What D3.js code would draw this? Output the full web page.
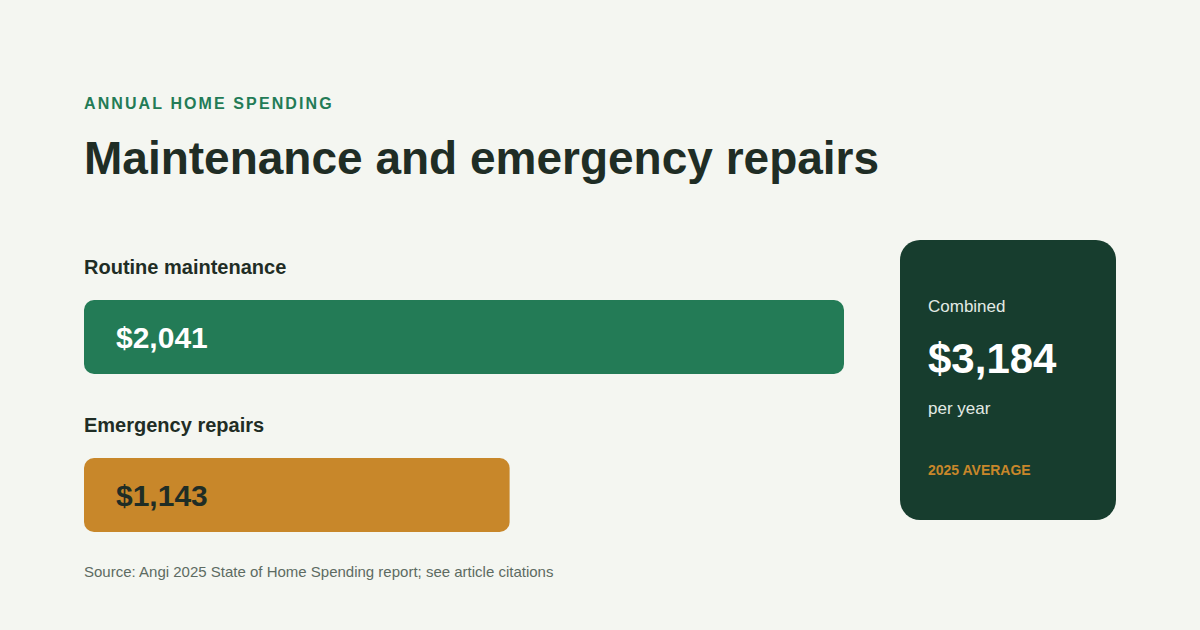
<!DOCTYPE html>
<html><head><meta charset="utf-8">
<script src="https://cdn.jsdelivr.net/npm/d3@7"></script>
<style>body{margin:0;background:#f4f6f1}svg{display:block;font-family:"Liberation Sans",Arial,sans-serif}</style>
</head><body><svg id="c" width="1200" height="630"></svg>
<script>
const categories = ["Routine maintenance", "Emergency repairs"];
const values = [2041, 1143];
const barColors = ["#237b56", "#c8872a"];
const labelColors = ["#ffffff", "#1f2d25"];
const total = 3184;

const svg = d3.select("#c");
svg.append("rect").attr("width",1200).attr("height",630).attr("fill","#f4f6f1");
svg.append("text").attr("x",84).attr("y",109).attr("fill","#237b56").attr("font-size",16).attr("font-weight","bold").attr("letter-spacing","2.1px").text("ANNUAL HOME SPENDING");
svg.append("text").attr("x",84).attr("y",174).attr("fill","#1f2d25").attr("font-size",46).attr("font-weight","bold").text("Maintenance and emergency repairs");

const x = d3.scaleLinear().domain([0, values[0]]).range([0, 760]);
const y = d3.scaleBand().domain(categories).range([242, 558]).paddingInner(0).paddingOuter(0);
const fmt = d3.format("$,");

const g = svg.selectAll("g.row").data(categories).join("g").attr("class","row")
  .attr("transform", d => `translate(84,${y(d)})`);
g.append("text").attr("y",32).attr("fill","#1f2d25").attr("font-size",20).attr("font-weight","bold").text(d=>d);
g.append("rect").attr("y",58).attr("height",74).attr("rx",10)
  .attr("width",(d,i)=>x(values[i])).attr("fill",(d,i)=>barColors[i]);
g.append("text").attr("x",32).attr("y",106).attr("font-size",30).attr("font-weight","bold")
  .attr("fill",(d,i)=>labelColors[i]).text((d,i)=>fmt(values[i]));

svg.append("text").attr("x",84).attr("y",577).attr("fill","#5d6b62").attr("font-size",15).text("Source: Angi 2025 State of Home Spending report; see article citations");

const card = svg.append("g").attr("transform","translate(900,240)");
card.append("rect").attr("width",216).attr("height",280).attr("rx",20).attr("fill","#173d2e");
card.append("text").attr("x",28).attr("y",72).attr("fill","#e3ebe5").attr("font-size",17).text("Combined");
card.append("text").attr("x",28).attr("y",133).attr("fill","#ffffff").attr("font-size",42).attr("font-weight","bold").text(fmt(total));
card.append("text").attr("x",28).attr("y",174).attr("fill","#e3ebe5").attr("font-size",17).text("per year");
card.append("text").attr("x",28).attr("y",235).attr("fill","#c8872a").attr("font-size",14).attr("font-weight","bold").text("2025 AVERAGE");
</script></body></html>
